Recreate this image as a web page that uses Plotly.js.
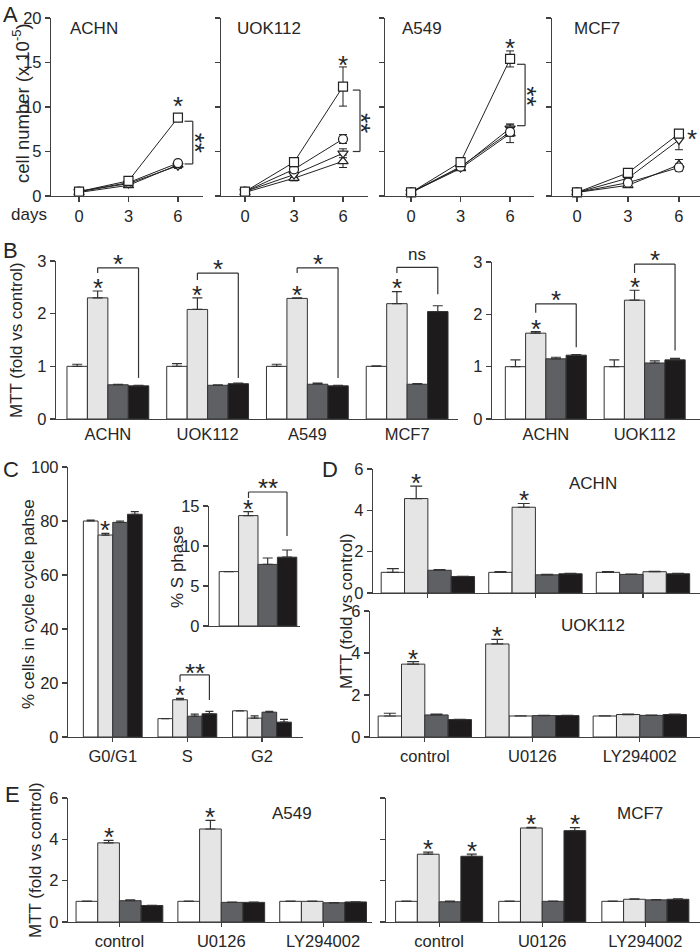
<!DOCTYPE html>
<html><head><meta charset="utf-8">
<script src="https://cdn.plot.ly/plotly-3.0.1.min.js"></script>
<style>body{margin:0;background:#fff}#chart{width:700px;height:949px}</style>
</head><body><div id="chart"></div>
<script>
// ================= DATA =================
// Panel A: cell number (x10^-5) vs days, rows = cell lines
const days = [0, 3, 6];
const growthCells = ['ACHN', 'UOK112', 'A549', 'MCF7'];
const growthSquare      = [[0.5,1.7,8.8],[0.5,3.8,12.3],[0.4,3.8,15.4],[0.4,2.6,7.0]];
const growthSquareErr   = [[0.1,0.2,0.3],[0.1,0.5,2.2],[0.1,0.3,0.9],[0.1,0.3,0.4]];
const growthCircle      = [[0.5,1.5,3.7],[0.5,3.0,6.4],[0.4,3.3,7.2],[0.4,1.5,3.2]];
const growthCircleErr   = [[0.1,0.2,0.3],[0.1,0.3,0.5],[0.1,0.3,0.5],[0.1,0.2,0.4]];
const growthTriUp       = [[0.4,1.2,3.5],[0.4,2.0,3.9],[0.4,3.1,7.0],[0.4,1.2,3.5]];
const growthTriUpErr    = [[0.1,0.2,0.3],[0.1,0.3,0.7],[0.1,0.2,1.0],[0.1,0.2,0.6]];
const growthTriDown     = [[0.5,1.4,3.4],[0.5,2.4,4.8],[0.4,3.2,7.6],[0.4,2.0,6.3]];
const growthTriDownErr  = [[0.1,0.2,0.3],[0.1,0.3,0.5],[0.1,0.2,0.5],[0.1,0.2,1.1]];

// Panel B: MTT (fold vs control)
const bCells = ['ACHN', 'UOK112', 'A549', 'MCF7'];
const bWhite = [1.00, 1.00, 1.00, 1.00];  const bWhiteErr = [0.04, 0.05, 0.04, 0.01];
const bLight = [2.30, 2.08, 2.29, 2.19];  const bLightErr = [0.13, 0.22, 0.01, 0.23];
const bDark  = [0.65, 0.64, 0.66, 0.66];  const bDarkErr  = [0.01, 0.01, 0.02, 0.01];
const bBlack = [0.63, 0.67, 0.63, 2.04];  const bBlackErr = [0.01, 0.01, 0.01, 0.11];
const b2Cells = ['ACHN', 'UOK112'];
const b2White = [1.00, 1.00];  const b2WhiteErr = [0.13, 0.13];
const b2Light = [1.64, 2.27];  const b2LightErr = [0.03, 0.19];
const b2Dark  = [1.15, 1.07];  const b2DarkErr  = [0.03, 0.04];
const b2Black = [1.22, 1.13];  const b2BlackErr = [0.01, 0.03];

// Panel C: % cells in cycle phase
const phases = ['G0/G1', 'S', 'G2'];
const cWhite = [80.0, 6.8, 9.7];   const cWhiteErr = [0.3, 0.0, 0.0];
const cLight = [74.8, 13.8, 7.0];  const cLightErr = [0.6, 0.5, 0.8];
const cDark  = [79.5, 7.7, 9.2];   const cDarkErr  = [0.5, 0.8, 0.3];
const cBlack = [82.5, 8.6, 5.5];   const cBlackErr = [1.0, 0.9, 1.0];

// Panels D, E: MTT with inhibitors
const treatments = ['control', 'U0126', 'LY294002'];
const dAchnWhite = [1.00, 1.00, 1.00];  const dAchnWhiteErr = [0.18, 0.03, 0.03];
const dAchnLight = [4.57, 4.15, 1.03];  const dAchnLightErr = [0.60, 0.18, 0.02];
const dAchnDark  = [1.10, 0.88, 0.90];  const dAchnDarkErr  = [0.03, 0.02, 0.02];
const dAchnBlack = [0.80, 0.93, 0.93];  const dAchnBlackErr = [0.01, 0.02, 0.02];
const dUokWhite = [1.00, 1.00, 1.00];  const dUokWhiteErr = [0.13, 0.01, 0.01];
const dUokLight = [3.47, 4.43, 1.07];  const dUokLightErr = [0.12, 0.22, 0.02];
const dUokDark  = [1.05, 1.02, 1.03];  const dUokDarkErr  = [0.04, 0.01, 0.01];
const dUokBlack = [0.83, 1.02, 1.07];  const dUokBlackErr = [0.01, 0.01, 0.02];
const eA549White = [1.00, 1.00, 1.00];  const eA549WhiteErr = [0.01, 0.01, 0.01];
const eA549Light = [3.83, 4.50, 1.00];  const eA549LightErr = [0.12, 0.42, 0.01];
const eA549Dark  = [1.03, 0.95, 0.93];  const eA549DarkErr  = [0.04, 0.01, 0.01];
const eA549Black = [0.80, 0.95, 0.97];  const eA549BlackErr = [0.01, 0.01, 0.01];
const eMcf7White = [1.00, 1.00, 1.00];  const eMcf7WhiteErr = [0.01, 0.01, 0.01];
const eMcf7Light = [3.28, 4.55, 1.10];  const eMcf7LightErr = [0.10, 0.03, 0.02];
const eMcf7Dark  = [0.98, 1.00, 1.07];  const eMcf7DarkErr  = [0.03, 0.01, 0.01];
const eMcf7Black = [3.18, 4.42, 1.10];  const eMcf7BlackErr = [0.10, 0.15, 0.02];

// ================= STYLE / LAYOUT =================
const W = 700, H = 949;
const FONT = 'Liberation Sans, Arial, sans-serif';
const INK = '#262626';
const AXC = '#404040';
const LINEC = '#333333';
const FILL = {white: '#ffffff', light: '#e4e5e4', dark: '#5f6064', black: '#1d1b1c'};
const KEYS = ['white', 'light', 'dark', 'black'];
const TICK = {family: FONT, size: 16.5, color: INK};
const STAR = 26;

const data = [];
const layout = {
  width: W, height: H, margin: {l: 0, r: 0, t: 0, b: 0},
  paper_bgcolor: '#ffffff', plot_bgcolor: 'rgba(0,0,0,0)',
  showlegend: false, barmode: 'overlay',
  font: {family: FONT, size: 16.5, color: INK},
  annotations: [], shapes: []
};

function axId(n) { return n === 1 ? '' : String(n); }
function setAxes(n, xpx, ypx, xr, yr, xo, yo) {
  const s = axId(n);
  const base = {showline: true, linecolor: AXC, linewidth: 1.2, ticks: 'outside', ticklen: 5,
    tickwidth: 1.2, tickcolor: AXC, showgrid: false, zeroline: false, tickfont: TICK, fixedrange: true};
  layout['xaxis' + s] = Object.assign({}, base, {domain: [xpx[0] / W, xpx[1] / W], range: xr, anchor: 'y' + s}, xo);
  layout['yaxis' + s] = Object.assign({}, base, {domain: [1 - ypx[1] / H, 1 - ypx[0] / H], range: yr, anchor: 'x' + s}, yo);
}

// ---- axes (pixel domains) ----
const aY = [18, 196];
setAxes(1, [51, 203], aY, [-1.70, 7.52], [0, 20], {tickvals: days}, {dtick: 5, tick0: 0});
setAxes(2, [221, 368], aY, [-1.47, 7.53], [0, 20], {tickvals: days}, {dtick: 5, tick0: 0, showticklabels: false});
setAxes(3, [385, 534], aY, [-1.58, 7.45], [0, 20], {tickvals: days}, {dtick: 5, tick0: 0, showticklabels: false});
setAxes(4, [552, 700], aY, [-1.47, 7.24], [0, 20], {tickvals: days}, {dtick: 5, tick0: 0, showticklabels: false});

setAxes(5, [56, 458], [261, 419], [-0.52, 3.51], [0, 3],
  {tickvals: bCells.map((_, i) => i), ticktext: bCells, ticks: ''}, {dtick: 1});
setAxes(6, [492, 700], [262, 419], [-0.545, 1.56], [0, 3],
  {tickvals: b2Cells.map((_, i) => i), ticktext: b2Cells, ticks: ''}, {dtick: 1});

setAxes(7, [68, 303], [467, 737], [-0.6, 2.55], [0, 100],
  {tickvals: phases.map((_, i) => i), ticktext: phases, ticklen: 4}, {dtick: 20});
setAxes(8, [209, 300], [506, 626], [-0.505, 0.433], [0, 15],
  {ticks: '', showticklabels: false}, {dtick: 5});

const tIdx = treatments.map((_, i) => i);
setAxes(9, [373, 700], [469, 593], [-0.51, 2.53], [0, 6],
  {tickvals: tIdx, ticktext: treatments, showticklabels: false, ticklen: 4}, {dtick: 2});
setAxes(10, [370, 700], [611, 737], [-0.51, 2.56], [0, 6],
  {tickvals: tIdx, ticktext: treatments, ticklen: 4}, {dtick: 2});
setAxes(11, [68, 372], [798, 922], [-0.505, 2.48], [0, 6],
  {tickvals: tIdx, ticktext: treatments, ticklen: 4}, {dtick: 2});
setAxes(12, [386, 700], [798, 922], [-0.515, 2.53], [0, 6],
  {tickvals: tIdx, ticktext: treatments, ticklen: 4}, {dtick: 2, showticklabels: false});

// ---- helpers ----
function growthTrace(n, ys, errs, symbol) {
  const s = axId(n);
  return {type: 'scatter', mode: 'lines+markers', x: days, y: ys, xaxis: 'x' + s, yaxis: 'y' + s,
    line: {color: '#222', width: 1},
    marker: {symbol: symbol, size: 9, color: '#ffffff', line: {color: '#222', width: 1.2}},
    error_y: {type: 'data', array: errs, color: '#222', thickness: 1, width: 4},
    cliponaxis: false, hoverinfo: 'skip'};
}
function barTrace(n, vals, errs, color, offs, w, cap) {
  const s = axId(n);
  return {type: 'bar', x: vals.map((_, i) => i), y: vals, xaxis: 'x' + s, yaxis: 'y' + s,
    width: w, offset: offs,
    marker: {color: color, line: {color: LINEC, width: 1}},
    error_y: {type: 'data', symmetric: false, array: errs, arrayminus: errs.map(() => 0),
      color: LINEC, thickness: 1.2, width: cap},
    hoverinfo: 'skip'};
}
// default positions: white, light, dark, black side by side
function defOffs(n, w, k) { return Array.from({length: n}, () => -2 * w + k * w); }
function barGroup(n, vals, errs, w, cap, offs) {
  vals.forEach((v, k) => {
    const o = offs ? offs[k] : defOffs(v.length, w, k);
    data.push(barTrace(n, v, errs[k], FILL[KEYS[k]], o, w, cap));
  });
}
function star(xref, yref, x, y, o) {
  o = o || {};
  const size = o.size || STAR;
  const a = {text: o.text || '*', xref: xref, yref: yref, x: x, y: y, showarrow: false,
    xanchor: 'center', yanchor: 'middle', font: {family: FONT, size: size, color: INK},
    xshift: o.dx || 0, yshift: (o.dy || 0) - 0.227 * size};
  if (o.angle) { a.textangle = o.angle; a.yshift = o.dy || 0; a.xshift = (o.dx || 0) - 0.227 * size; }
  layout.annotations.push(a);
}
function axStar(n, x, y, o) { const s = axId(n); star('x' + s, 'y' + s, x, y, o); }
function barStar(n, i, off, w, v, e) { axStar(n, i + off + w / 2, v + e, {dy: 9}); }
function line(xref, yref, x0, y0, x1, y1) {
  layout.shapes.push({type: 'line', xref: xref, yref: yref, x0: x0, y0: y0, x1: x1, y1: y1,
    line: {color: LINEC, width: 1.2}});
}
function bracket(n, x0, x1, top, yl, yr) {
  const s = axId(n), xr = 'x' + s, ya = 'y' + s;
  line(xr, ya, x0, yl, x0, top); line(xr, ya, x0, top, x1, top); line(xr, ya, x1, top, x1, yr);
}
function vbracket(n, x0, x1, ya, yb) {
  const s = axId(n), xr = 'x' + s, yr = 'y' + s;
  line(xr, yr, x0, ya, x1, ya); line(xr, yr, x1, ya, x1, yb); line(xr, yr, x1, yb, x0, yb);
}
function label(text, px, py, o) {
  o = o || {};
  layout.annotations.push(Object.assign({text: text, xref: 'paper', yref: 'paper', x: px / W, y: 1 - py / H,
    showarrow: false, xanchor: 'center', yanchor: 'middle',
    font: {family: FONT, size: o.size || 17, color: INK}}, o.extra || {}));
}

// ================= PANEL A =================
growthCells.forEach((c, i) => {
  const n = i + 1;
  data.push(growthTrace(n, growthTriUp[i], growthTriUpErr[i], 'triangle-up'));
  data.push(growthTrace(n, growthTriDown[i], growthTriDownErr[i], 'triangle-down'));
  data.push(growthTrace(n, growthCircle[i], growthCircleErr[i], 'circle'));
  data.push(growthTrace(n, growthSquare[i], growthSquareErr[i], 'square'));
});
[68, 235, 400, 572].forEach((px, i) => label(growthCells[i], px, 29, {extra: {xanchor: 'left'}}));
axStar(1, 6, 10.8); axStar(2, 6, 15.4); axStar(3, 6, 17.3); axStar(4, 6.76, 7.1);
vbracket(1, 6.4, 6.9, 8.4, 3.6);  axStar(1, 7.39, 6.0, {text: '**', angle: 90});
vbracket(2, 6.6, 7.04, 11.9, 5.0); axStar(2, 7.47, 8.2, {text: '**', angle: 90});
vbracket(3, 6.42, 6.91, 14.8, 7.9); axStar(3, 7.39, 11.2, {text: '**', angle: 90});
label('days', 29, 214);
label('cell number (x 10<sup>-5</sup>)', 21, 103, {size: 18.5, extra: {textangle: -90}});

// ================= PANEL B =================
const wB = 0.205;
barGroup(5, [bWhite, bLight, bDark, bBlack], [bWhiteErr, bLightErr, bDarkErr, bBlackErr], wB, 5);
barGroup(6, [b2White, b2Light, b2Dark, b2Black], [b2WhiteErr, b2LightErr, b2DarkErr, b2BlackErr], wB, 5);
bLight.forEach((v, i) => barStar(5, i, -wB, wB, v, bLightErr[i]));
b2Light.forEach((v, i) => barStar(6, i, -wB, wB, v, b2LightErr[i]));
const bBr = [[2.87, 2.77, 0.78, '*'], [2.77, 2.64, 0.78, '*'], [2.87, 2.77, 0.78, '*'], [2.88, 2.77, 2.37, 'ns']];
bBr.forEach((b, i) => {
  const x0 = i - 0.5 * wB, x1 = i + 1.5 * wB;
  bracket(5, x0, x1, b[0], b[1], b[2]);
  if (b[3] === 'ns') layout.annotations.push({text: 'ns', xref: 'x5', yref: 'y5', x: (x0 + x1) / 2, y: b[0],
    showarrow: false, yanchor: 'bottom', yshift: 1, font: {family: FONT, size: 17, color: INK}});
  else axStar(5, (x0 + x1) / 2, b[0], {dy: 10});
});
const b2Br = [[2.2, 2.03, 1.37], [2.96, 2.79, 1.31]];
b2Br.forEach((b, i) => {
  const x0 = i - 0.5 * wB, x1 = i + 1.5 * wB;
  bracket(6, x0, x1, b[0], b[1], b[2]);
  axStar(6, (x0 + x1) / 2, b[0], {dy: 10});
});
label('MTT (fold vs control)', 16, 340, {extra: {textangle: -90}});

// ================= PANEL C =================
const wC = 0.197;
barGroup(7, [cWhite, cLight, cDark, cBlack], [cWhiteErr, cLightErr, cDarkErr, cBlackErr], wC, 4);
barStar(7, 0, -wC, wC, cLight[0], cLightErr[0]);
barStar(7, 1, -wC, wC, cLight[1], cLightErr[1]);
bracket(7, 1 - 0.5 * wC, 1 + 1.5 * wC, 23, 20.5, 13.7);
axStar(7, 1 + 0.5 * wC, 23, {text: '**', dy: 8});
// inset: S phase
const wI = 0.2;
barGroup(8, [[cWhite[1]], [cLight[1]], [cDark[1]], [cBlack[1]]],
  [[cWhiteErr[1]], [cLightErr[1]], [cDarkErr[1]], [cBlackErr[1]]], wI, 5);
barStar(8, 0, -wI, wI, cLight[1], cLightErr[1]);
line('paper', 'paper', 248.5 / W, 1 - 498 / H, 248.5 / W, 1 - 492 / H);
line('paper', 'paper', 248.5 / W, 1 - 492 / H, 287 / W, 1 - 492 / H);
line('paper', 'paper', 287 / W, 1 - 492 / H, 287 / W, 1 - 536 / H);
star('paper', 'paper', 268 / W, 1 - 482 / H, {text: '**'});
label('% S phase', 177, 567, {extra: {textangle: -90}});
label('% cells in cycle cycle pahse', 28, 604, {extra: {textangle: -90}});

// ================= PANEL D =================
const wD = 0.217;
barGroup(9, [dAchnWhite, dAchnLight, dAchnDark, dAchnBlack],
  [dAchnWhiteErr, dAchnLightErr, dAchnDarkErr, dAchnBlackErr], wD, 6,
  [[-2 * wD, -2 * wD, -2 * wD], [-wD, -wD, 0], [0, 0, -wD], [wD, wD, wD]]);
barStar(9, 0, -wD, wD, dAchnLight[0], dAchnLightErr[0]);
barStar(9, 1, -wD, wD, dAchnLight[1], dAchnLightErr[1]);
barGroup(10, [dUokWhite, dUokLight, dUokDark, dUokBlack],
  [dUokWhiteErr, dUokLightErr, dUokDarkErr, dUokBlackErr], wD, 6,
  [[-2 * wD, -wD, -2 * wD], [-wD, -2 * wD, -wD], [0, 0, 0], [wD, wD, wD]]);
barStar(10, 0, -wD, wD, dUokLight[0], dUokLightErr[0]);
barStar(10, 1, -2 * wD, wD, dUokLight[1], dUokLightErr[1]);
label('ACHN', 593, 483);
label('UOK112', 593, 625);
label('MTT (fold vs control)', 346, 611, {extra: {textangle: -90}});

// ================= PANEL E =================
const wE1 = 0.213, wE2 = 0.211;
barGroup(11, [eA549White, eA549Light, eA549Dark, eA549Black],
  [eA549WhiteErr, eA549LightErr, eA549DarkErr, eA549BlackErr], wE1, 5);
barStar(11, 0, -wE1, wE1, eA549Light[0], eA549LightErr[0]);
barStar(11, 1, -wE1, wE1, eA549Light[1], eA549LightErr[1]);
barGroup(12, [eMcf7White, eMcf7Light, eMcf7Dark, eMcf7Black],
  [eMcf7WhiteErr, eMcf7LightErr, eMcf7DarkErr, eMcf7BlackErr], wE2, 5);
[0, 1].forEach(i => {
  barStar(12, i, -wE2, wE2, eMcf7Light[i], eMcf7LightErr[i]);
  barStar(12, i, wE2, wE2, eMcf7Black[i], eMcf7BlackErr[i]);
});
label('A549', 292, 813);
label('MCF7', 640, 813);
label('MTT (fold vs control)', 35, 860, {extra: {textangle: -90}});

// ================= PANEL LETTERS =================
[['A', 10, 14], ['B', 10, 250], ['C', 11, 470], ['D', 330, 470], ['E', 12, 794]].forEach(l =>
  label(l[0], l[1], l[2], {size: 22}));

Plotly.newPlot('chart', data, layout, {staticPlot: true, displayModeBar: false});
</script>
</body></html>
